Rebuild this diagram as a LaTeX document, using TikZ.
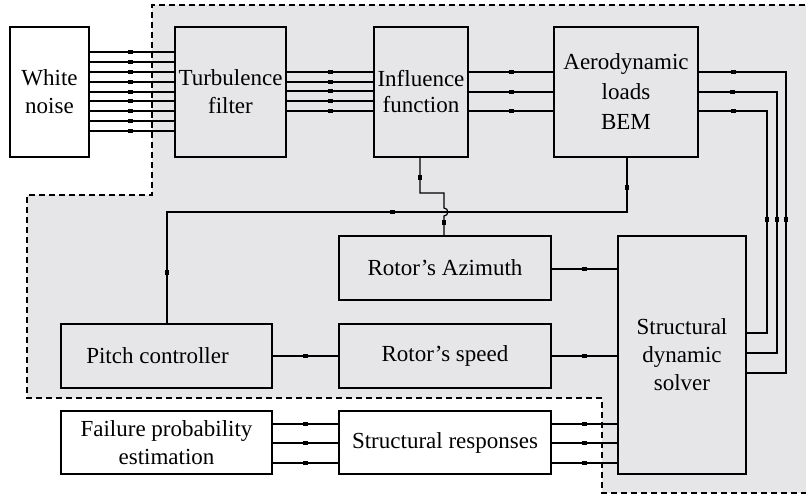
\documentclass[tikz,border=0pt]{standalone}
\usepackage{fontspec}
\setmainfont{Liberation Serif}
\newfontfamily\figfont{Liberation Serif}
\definecolor{regiongray}{RGB}{230,230,232}
\begin{document}
\begin{tikzpicture}[x=1pt,y=-1pt,
  box/.style={draw, line width=1.2pt, inner sep=0pt, outer sep=0pt, anchor=north west, align=center, font=\figfont\fontsize{23}{28}\selectfont},
  sig/.style={line width=1.2pt},
  mk/.style={fill=black, draw=none, inner sep=0pt, outer sep=0pt, minimum width=5pt, minimum height=4pt, sloped, pos=0.5},
  region/.style={line width=1.2pt, dash pattern=on 6pt off 4pt}]
\clip (0,0) rectangle (806,495);
\fill[white] (0,0) rectangle (806,495);
% shaded region
\fill[regiongray] (152,5) -- (152,195) -- (27,195) -- (27,398) -- (602,398) -- (602,493) -- (815,493) -- (815,5) -- cycle;

% boxes
\node[box, fill=white, minimum width=79pt, minimum height=130pt] (wn) at (10,27) {White\\noise};
\node[box, minimum width=111pt, minimum height=130pt] (tf) at (175,27) {Turbulence\\filter};
\node[box, minimum width=94pt, minimum height=130pt, font=\figfont\fontsize{23}{26}\selectfont] (inf) at (374,27) {Influence\\function};
\node[box, minimum width=144pt, minimum height=130pt, font=\figfont\fontsize{23}{30}\selectfont] (ae) at (554,27) {Aerodynamic\\loads\\BEM};
\node[box, minimum width=212pt, minimum height=64pt] (az) at (339,236) {Rotor’s Azimuth};
\node[box, minimum width=128pt, minimum height=238pt] (sds) at (618,236) {Structural\\dynamic\\solver};
\node[box, minimum width=211pt, minimum height=64pt] (pc) at (61,324) {Pitch controller\hspace*{18pt}};
\node[box, minimum width=212pt, minimum height=64pt] (rs) at (339,324) {Rotor’s speed};
\node[box, fill=white, minimum width=211pt, minimum height=63pt] (fp) at (61,411) {Failure probability\\estimation};
\node[box, fill=white, minimum width=212pt, minimum height=63pt] (sr) at (339,411) {Structural responses};

% white noise -> turbulence filter
\foreach \y in {52,62,72,82,92,101,111,121,131}
  \draw[sig] (wn.east |- 0,\y) -- node[mk,pos=0.48]{} (tf.west |- 0,\y);
% turbulence filter -> influence function
\foreach \y in {72,82,91,101,111}
  \draw[sig] (tf.east |- 0,\y) -- node[mk]{} (inf.west |- 0,\y);
% influence function -> aerodynamic loads
\foreach \y in {72,92,111}
  \draw[sig] (inf.east |- 0,\y) -- node[mk]{} (ae.west |- 0,\y);
% aerodynamic loads -> structural dynamic solver
\draw[sig] (ae.east |- 0,72) -- node[mk,pos=0.4]{} (786,72) -- node[mk,pos=0.49]{} (786,373) -- (sds.east |- 0,373);
\draw[sig] (ae.east |- 0,92) -- node[mk,pos=0.44]{} (777,92) -- node[mk,pos=0.49]{} (777,353) -- (sds.east |- 0,353);
\draw[sig] (ae.east |- 0,111) -- node[mk,pos=0.51]{} (767,111) -- node[mk,pos=0.49]{} (767,333) -- (sds.east |- 0,333);
% aerodynamic loads -> pitch controller
\draw[sig] (ae.south -| 627,0) -- node[mk,pos=0.56]{} (627,212) -- node[mk,pos=0.51]{} (167,212) -- node[mk,pos=0.54]{} (pc.north -| 167,0);
% rotor's azimuth -> influence function (with hop)
\draw[sig] (az.north -| 444,0) -- node[mk,pos=0.7]{} (444,216) .. controls (449,216) and (449,208) .. (444,208) -- (444,193) -- (420,193) -- node[mk,pos=0.44]{} (inf.south -| 420,0);
% solver <-> rotor blocks
\draw[sig] (az.east |- 0,269) -- node[mk]{} (sds.west |- 0,269);
\draw[sig] (rs.east |- 0,356) -- node[mk]{} (sds.west |- 0,356);
\draw[sig] (pc.east |- 0,356) -- node[mk]{} (rs.west |- 0,356);
% solver -> structural responses -> failure probability
\foreach \y in {424,443,463} {
  \draw[sig] (sds.west |- 0,\y) -- node[mk]{} (sr.east |- 0,\y);
  \draw[sig] (sr.west |- 0,\y) -- node[mk]{} (fp.east |- 0,\y);
}
% dashed boundary
\draw[region] (815,5) -- (152,5) -- (152,195) -- (27,195) -- (27,398) -- (602,398) -- (602,493) -- (815,493);
\end{tikzpicture}
\end{document}
